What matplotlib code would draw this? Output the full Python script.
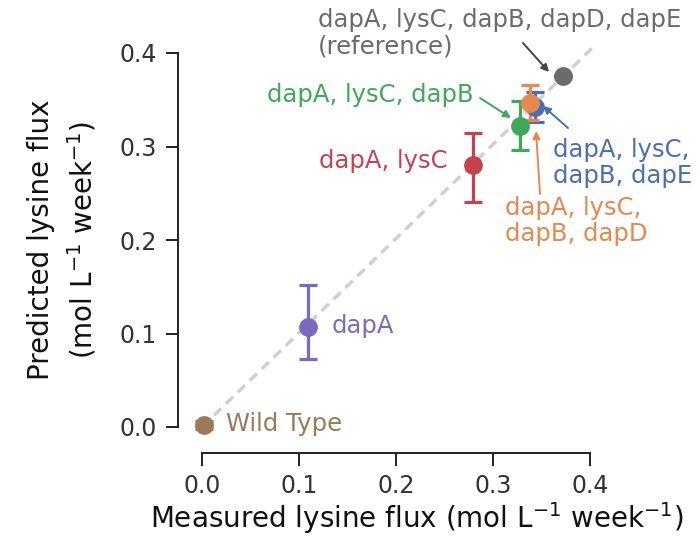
import matplotlib
matplotlib.use("Agg")
import matplotlib.pyplot as plt

# Data
labels = ["Wild Type", "dapA", "dapA, lysC", "dapA, lysC, dapB",
          "dapA, lysC,\ndapB, dapE", "dapA, lysC,\ndapB, dapD",
          "dapA, lysC, dapB, dapD, dapE\n(reference)"]
measured = [0.002, 0.109, 0.279, 0.328, 0.343, 0.338, 0.372]
predicted = [0.002, 0.107, 0.280, 0.322, 0.342, 0.347, 0.375]
err_low = [0.004, 0.034, 0.039, 0.026, 0.016, 0.019, 0.0]
err_high = [0.004, 0.045, 0.034, 0.027, 0.016, 0.019, 0.0]
colors = ["#9a7a5a", "#7b6bbf", "#c8414f", "#3fa85a", "#4a6db3", "#e8874e", "#6b6b6b"]
ticks = [0.0, 0.1, 0.2, 0.3, 0.4]

plt.rcParams['font.family'] = ['DejaVu Sans']

fig = plt.figure(figsize=(7.0, 5.39), dpi=100)
W, H = 700, 539
X0, XS = 202.0, 970.0   # pixel of x=0, px per unit
Y0, YS = 427.0, 935.0   # pixel of y=0, px per unit
xlim = ((178 - X0) / XS, 0.41)
ylim = ((Y0 - 453) / YS, 0.41)
left_px = 178
right_px = X0 + xlim[1] * XS
bot_px = 453
top_px = Y0 - ylim[1] * YS
ax = fig.add_axes([left_px / W, (H - bot_px) / H, (right_px - left_px) / W, (bot_px - top_px) / H])

def px2data(px, py):
    return (px - X0) / XS, (Y0 - py) / YS

ax.plot([0, 0.402], [0, 0.405], ls=(0, (3, 2)), color="#cfcfcf", lw=2.4, zorder=1)

order = [0, 1, 2, 4, 3, 5, 6]
for i in order:
    yerr = [[err_low[i]], [err_high[i]]]
    ax.errorbar([measured[i]], [predicted[i]], yerr=yerr, fmt='o', color=colors[i],
                ms=12.5, elinewidth=2.3, capsize=6.5, capthick=2.3, zorder=3)

fs = 17.5

def arrow(start, end, color):
    ax.annotate("", xy=px2data(*end), xytext=px2data(*start),
                arrowprops=dict(arrowstyle='-|>', color=color, lw=1.4, mutation_scale=11,
                                shrinkA=0, shrinkB=0),
                annotation_clip=False, zorder=4)

# gray reference
ax.text(*px2data(318, 33), labels[6], color=colors[6], fontsize=fs, ha='left', va='center',
        linespacing=1.15)
arrow((523, 43), (549, 72), "#444444")
# green
ax.text(*px2data(474, 95), labels[3], color=colors[3], fontsize=fs, ha='right', va='center')
arrow((480, 98), (511, 118), colors[3])
# red
ax.text(*px2data(448, 161), labels[2], color=colors[2], fontsize=fs, ha='right', va='center')
# blue
ax.text(*px2data(553, 163), labels[4], color=colors[4], fontsize=fs, ha='left', va='center',
        linespacing=1.15)
arrow((568, 128), (543, 106), colors[4])
# orange
ax.text(*px2data(505, 221), labels[5], color=colors[5], fontsize=fs, ha='left', va='center',
        linespacing=1.15)
arrow((540, 194), (536, 131), colors[5])
# purple
ax.text(*px2data(332, 326), labels[1], color=colors[1], fontsize=fs, ha='left', va='center')
# brown
ax.text(*px2data(226, 424), labels[0], color=colors[0], fontsize=fs, ha='left', va='center')

ax.set_xlim(*xlim)
ax.set_ylim(*ylim)
ax.set_xticks(ticks)
ax.set_yticks(ticks)
ax.set_xticklabels([f"{t:.1f}" for t in ticks])
ax.set_yticklabels([f"{t:.1f}" for t in ticks])
for s in ['top', 'right']:
    ax.spines[s].set_visible(False)
ax.spines['left'].set_bounds(0, 0.4)
ax.spines['bottom'].set_bounds(0, 0.4)
for s in ['left', 'bottom']:
    ax.spines[s].set_linewidth(1.4)
    ax.spines[s].set_color("#222222")
ax.tick_params(axis='both', labelsize=17, width=1.4, length=9, color="#222222",
               labelcolor="#333333")
ax.tick_params(axis='y', pad=6)
ax.tick_params(axis='x', pad=6)

ax.set_xlabel("Measured lysine flux (mol L$^{-1}$ week$^{-1}$)", fontsize=20, color="#111111")
ax.set_ylabel("Predicted lysine flux\n(mol L$^{-1}$ week$^{-1}$)", fontsize=20, color="#111111",
              linespacing=1.4)
ax.xaxis.set_label_coords((417 - left_px) / (right_px - left_px), -(518 - bot_px) / (bot_px - top_px))
ax.yaxis.set_label_coords(-(left_px - 63) / (right_px - left_px), (bot_px - 240) / (bot_px - top_px))
ax.xaxis.label.set_va('center')
ax.yaxis.label.set_va('center')

fig.savefig("out.png", dpi=100)
